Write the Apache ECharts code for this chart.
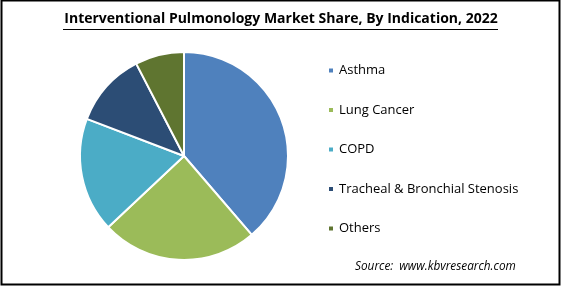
<!DOCTYPE html>
<html><head><meta charset="utf-8">
<script src="https://cdn.jsdelivr.net/npm/echarts@6/dist/echarts.min.js"></script>
<style>html,body{margin:0;padding:0;background:#fff}#c{width:562px;height:286px}</style>
</head><body><div id="c"></div>
<script>
const categories = ['Asthma', 'Lung Cancer', 'COPD', 'Tracheal & Bronchial Stenosis', 'Others'];
const shares = [38.7, 24.3, 17.8, 11.6, 7.6];
const colors = ['#4F81BD', '#9BBB59', '#4BACC6', '#2C4D75', '#5F7530'];
const titleText = 'Interventional Pulmonology Market Share, By Indication, 2022';
const sourceText = 'Source:  www.kbvresearch.com';

const chart = echarts.init(document.getElementById('c'), null, {renderer: 'canvas'});
chart.setOption({
  animation: false,
  color: colors,
  title: {
    text: titleText,
    left: 'center', top: 7,
    textStyle: {fontFamily: 'Open Sans', fontWeight: 'bold', fontSize: 14, color: '#000'},
  },
  legend: {
    orient: 'vertical', left: 322, top: 59,
    itemWidth: 6, itemHeight: 6, itemGap: 26.5,
    icon: 'rect',
    textStyle: {fontFamily: 'Open Sans', fontSize: 13, color: '#000'},
    data: categories
  },
  graphic: [
    {type: 'rect', shape: {x: 1.5, y: 0.5, width: 558, height: 284}, style: {fill: 'none', stroke: '#000', lineWidth: 2}},
    {type: 'line', shape: {x1: 63, y1: 29.5, x2: 498, y2: 29.5}, style: {stroke: '#000', lineWidth: 1.2}},
    {type: 'text', left: 355, top: 261, style: {text: sourceText, font: 'italic 11.8px "Open Sans"', fill: '#000'}}
  ],
  series: [{
    type: 'pie',
    center: [184, 156], radius: 104,
    startAngle: 90, clockwise: true,
    label: {show: false}, labelLine: {show: false},
    itemStyle: {borderColor: '#fff', borderWidth: 2},
    emphasis: {disabled: true},
    data: categories.map((n, i) => ({name: n, value: shares[i]}))
  }]
});
</script></body></html>
